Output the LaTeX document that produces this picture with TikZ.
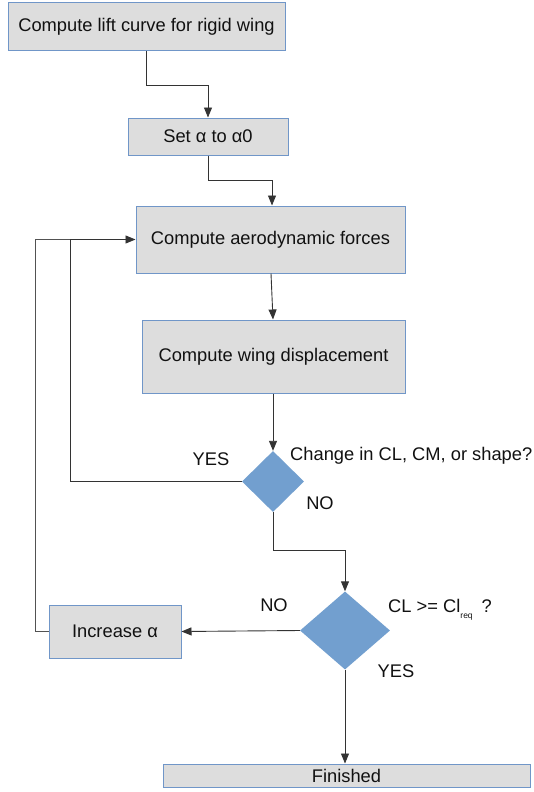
\documentclass[tikz,border=0pt]{standalone}
\usepackage{fontspec}
\setmainfont{Liberation Sans}
\usepackage{xcolor}
\usepackage{tikz}
\usetikzlibrary{arrows.meta,positioning,calc,shapes.geometric}
\definecolor{ink}{HTML}{111111}
\definecolor{line}{HTML}{333333}
\definecolor{boxgray}{HTML}{DDDDDD}
\definecolor{boxedge}{HTML}{7096C8}
\definecolor{decblue}{HTML}{729FCF}
\tikzset{
  >={Triangle[length=10pt,width=8pt]},
  every node/.style={font=\fontsize{18.3}{22}\selectfont,text=ink},
  stepbox/.style={draw=boxedge,line width=1pt,fill=boxgray,inner sep=0pt,align=center},
  decision/.style={diamond,fill=decblue,draw=none,inner sep=0pt},
  arrow/.style={->,line width=0.9pt,draw=line},
  plain/.style={line width=0.9pt,draw=line!85},
  lbl/.style={inner sep=0pt}
}
\begin{document}
\begin{tikzpicture}[x=1pt,y=-1pt]
  \useasboundingbox[fill=white] (0,0) rectangle (534,792);

  \node[stepbox,minimum width=277pt,minimum height=48pt] (lift) at (146.5,27) {Compute lift curve for rigid wing};
  \node[stepbox,minimum width=160pt,minimum height=37pt] (setalpha) at (208,136.5) {Set α to α0};
  \node[stepbox,minimum width=269pt,minimum height=67pt] (aero) at (270.5,239.5) {Compute aerodynamic forces};
  \node[stepbox,minimum width=263pt,minimum height=73pt] (disp) at (273.5,356.5) {Compute wing displacement};
  \node[decision,minimum width=62pt,minimum height=61pt] (change) at (273,481.5) {};
  \node[decision,minimum width=90pt,minimum height=78pt] (clreq) at (345,630.5) {};
  \node[stepbox,minimum width=132pt,minimum height=53pt] (incr) at (115,631.5) {Increase α};
  \node[stepbox,minimum width=367pt,minimum height=23pt] (done) at (346.5,775.5) {Finished};

  % labels round the decisions
  \node[lbl,anchor=base] (yesA) at (211,465) {YES};
  \node[lbl,anchor=base west] (askA) at (290,460) {Change in CL, CM, or shape?};
  \node[lbl,anchor=base] (noA) at (320,509) {NO};
  \node[lbl,anchor=base] (noB) at (274,611) {NO};
  \node[lbl,anchor=base west] (askB) at (388,612) {CL >= Cl\raisebox{-6pt}{\fontsize{8.5}{9}\selectfont req}\hspace{9pt}?};
  \node[lbl,anchor=base] (yesB) at (396,677) {YES};

  \coordinate (loopin) at (70,239.5);
  \coordinate (loopout) at (35,239.5);

  \draw[arrow] (lift.south) -- ++(0,34) -| (setalpha.north);
  \draw[arrow] (setalpha.south) -- ++(0,25) -| ($(aero.north)+(1.5,0)$);
  \draw[arrow] ($(aero.south)+(0.5,0)$) -- ($(disp.north)+(-0.5,0)$);
  \draw[arrow] ($(disp.south)+(-0.5,0)$) -- (change.north);
  \draw[arrow] (change.west) -| (loopin) -- (aero.west);
  \draw[arrow] (change.south) -- ++(0,38) -| (clreq.north);
  \draw[arrow] (clreq.west) -- (incr.east);
  \draw[plain] (incr.west) -| (loopout) -- (loopin);
  \draw[arrow] (clreq.south) -- (clreq.south |- done.north);
\end{tikzpicture}
\end{document}
